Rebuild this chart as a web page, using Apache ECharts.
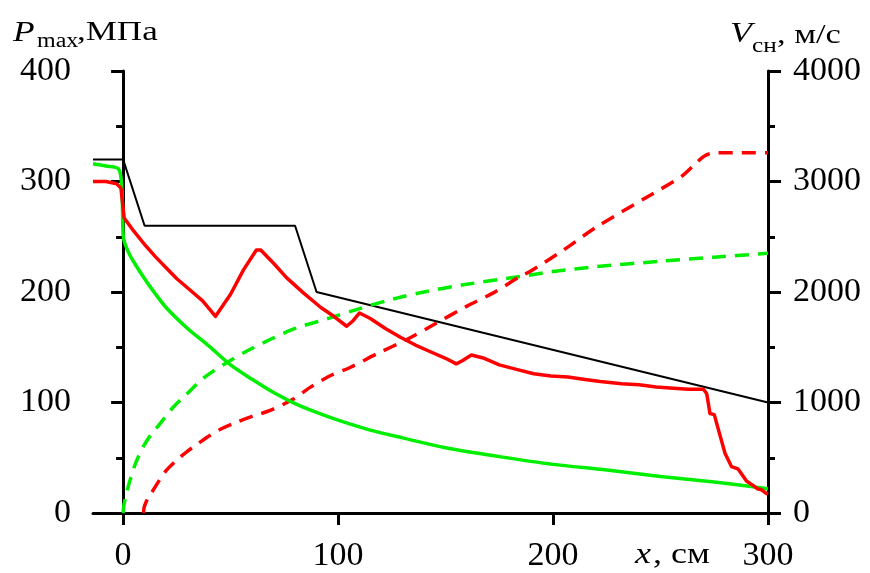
<!DOCTYPE html>
<html>
<head>
<meta charset="utf-8">
<script src="https://cdn.jsdelivr.net/npm/echarts@6/dist/echarts.min.js"></script>
<style>html,body{margin:0;padding:0;background:#fff}#c{width:870px;height:573px}</style>
</head>
<body>
<div id="c"></div>
<script>
// x positions, см
const xTicks = [0, 100, 200, 300];
// Black limit line, МПа
const blackX = [-14, 0, 10, 80, 90, 300];
const blackY = [320, 320, 260, 260, 200, 100];
// Red solid P_max, МПа
const redX = [-14, -8, -3, -1, 0.5, 5, 10, 15, 20, 25, 31, 37, 43, 50, 56, 62, 64, 70, 76, 84, 92, 98, 104, 107, 110, 115, 122, 129, 136, 144, 150, 155, 158, 162, 168, 175, 183, 191, 199, 207, 214, 222, 232, 240, 248, 256, 263, 270, 271.5, 273, 275, 276, 278, 280, 283, 286, 290, 293, 295, 297, 299, 300];
const redY = [300, 300, 298, 294, 267, 255, 243, 232, 222, 212, 202, 192, 178, 198, 220, 238, 238, 226, 213, 199, 186, 178, 169, 174, 181, 176, 167, 159, 152, 145, 140, 135, 138, 143, 140, 134, 130, 126, 124, 123, 121, 119, 117, 116, 114, 113, 112, 112, 108, 90, 89, 82, 68, 54, 42, 40, 29, 25, 22, 21, 18, 17];
// Green solid P_max, МПа
const greenX = [-14, -8, -2, -0.5, 0, 1, 3, 6, 10, 14, 20, 30, 40, 50, 60, 70, 80, 90, 100, 115, 130, 150, 175, 200, 225, 250, 275, 300];
const greenY = [316, 314, 311, 290, 252, 243, 234, 224, 212, 201, 186, 167, 151, 134, 121, 109, 99, 91, 84, 75, 68, 59, 51, 44, 39, 33, 28, 22];
// Green dashed V_сн, м/с
const greenVX = [0, 0.3, 1, 2, 3.3, 6, 9.4, 13, 17.2, 23, 29.6, 38, 48.2, 58, 68.4, 80, 96.3, 110, 127.3, 140, 158.3, 184.7, 200, 220.3, 251.3, 275, 300];
const greenVY = [0, 60, 130, 210, 300, 460, 600, 710, 808, 950, 1077, 1230, 1360, 1470, 1570, 1670, 1766, 1850, 1945, 2000, 2065, 2140, 2185, 2230, 2280, 2315, 2350];
// Red dashed V_сн, м/с
const redVX = [9.5, 9.8, 10.5, 12, 14.1, 17, 20.3, 25, 29.6, 35, 40.5, 46, 52.9, 60, 68.4, 79.2, 87, 96.3, 105.6, 118, 132, 145, 159.8, 172, 184.7, 189.3, 204.8, 220.3, 243.6, 260, 266.8, 270, 272.5, 275, 300];
const redVY = [0, 50, 90, 150, 210, 300, 390, 480, 554, 630, 704, 765, 823, 875, 928, 1032, 1137, 1242, 1317, 1440, 1570, 1710, 1870, 1990, 2140, 2185, 2379, 2589, 2858, 3050, 3172, 3225, 3250, 3260, 3260];

function pairs(xs, ys) { return xs.map((x, i) => [x, ys[i]]); }

const FONT = 'Liberation Serif';
const chart = echarts.init(document.getElementById('c'), null, {renderer: 'canvas'});
const axisLine = {show: true, lineStyle: {color: '#000', width: 3}};
chart.setOption({
  animation: false,
  backgroundColor: '#fff',
  grid: {left: 93, right: 102, top: 71, bottom: 56, containLabel: false},
  xAxis: {
    type: 'value', min: -14, max: 300,
    axisLine: {show: true, onZero: false, lineStyle: {color: '#000', width: 3}},
    axisTick: {show: true, inside: false, length: 12, lineStyle: {width: 3, color: '#000'}, customValues: xTicks},
    axisLabel: {show: true, margin: 26, fontSize: 34, fontFamily: FONT, color: '#000', customValues: xTicks},
    splitLine: {show: false}
  },
  yAxis: [
    {
      type: 'value', min: 0, max: 400, interval: 100, position: 'left',
      axisLine: axisLine,
      axisTick: {show: true, inside: false, length: 12, lineStyle: {width: 3, color: '#000'}},
      minorTick: {show: true, splitNumber: 2, length: 7, lineStyle: {width: 3, color: '#000'}},
      axisLabel: {margin: 22, fontSize: 34, fontFamily: FONT, color: '#000'},
      splitLine: {show: false}
    },
    {
      type: 'value', min: 0, max: 4000, interval: 1000, position: 'right',
      axisLine: axisLine,
      axisTick: {show: true, inside: false, length: 13, lineStyle: {width: 3, color: '#000'}},
      minorTick: {show: true, splitNumber: 2, length: 7, lineStyle: {width: 3, color: '#000'}},
      axisLabel: {margin: 25, fontSize: 34, fontFamily: FONT, color: '#000', formatter: v => String(v)},
      splitLine: {show: false}
    }
  ],
  series: [
    {type: 'line', yAxisIndex: 0, data: pairs(blackX, blackY), showSymbol: false, lineStyle: {color: '#000', width: 2}, z: 2},
    {type: 'line', yAxisIndex: 1, data: pairs(greenVX, greenVY), showSymbol: false, smooth: 0.3, lineStyle: {color: '#00ee00', width: 3.5, type: [14, 9]}, z: 3},
    {type: 'line', yAxisIndex: 1, data: pairs(redVX, redVY), showSymbol: false, smooth: 0.3, lineStyle: {color: '#ff0000', width: 3.5, type: [14, 9]}, z: 3},
    {type: 'line', yAxisIndex: 0, data: pairs(greenX, greenY), showSymbol: false, smooth: 0.3, lineStyle: {color: '#00ee00', width: 3.5}, z: 4},
    {type: 'line', yAxisIndex: 0, data: pairs(redX, redY), showSymbol: false, lineStyle: {color: '#ff0000', width: 3.5, join: 'round'}, z: 5}
  ],
  graphic: [
    {type: 'text', x: 13, y: 33, scaleX: 1.22, style: {text: 'P', font: 'italic 29px "Liberation Serif"', fill: '#000', verticalAlign: 'middle'}},
    {type: 'text', x: 37, y: 41.5, scaleX: 1.2, style: {text: 'max', font: '20px "Liberation Serif"', fill: '#000', verticalAlign: 'middle'}},
    {type: 'text', x: 77, y: 32.5, scaleX: 1.25, style: {text: ',МПа', font: '28px "Liberation Serif"', fill: '#000', verticalAlign: 'middle'}},
    {type: 'text', x: 730, y: 34, scaleX: 1.2, style: {text: 'V', font: 'italic 30px "Liberation Serif"', fill: '#000', verticalAlign: 'middle'}},
    {type: 'text', x: 752, y: 46, scaleX: 1.2, style: {text: 'сн', font: '21px "Liberation Serif"', fill: '#000', verticalAlign: 'middle'}},
    {type: 'text', x: 777, y: 35.5, scaleX: 1.23, style: {text: ', м/с', font: '28px "Liberation Serif"', fill: '#000', verticalAlign: 'middle'}},
    {type: 'text', x: 635, y: 555, scaleX: 1.2, style: {text: 'x', font: 'italic 30px "Liberation Serif"', fill: '#000', verticalAlign: 'middle'}},
    {type: 'text', x: 653, y: 555, scaleX: 1.2, style: {text: ', см', font: '30px "Liberation Serif"', fill: '#000', verticalAlign: 'middle'}}
  ]
});
</script>
</body>
</html>
